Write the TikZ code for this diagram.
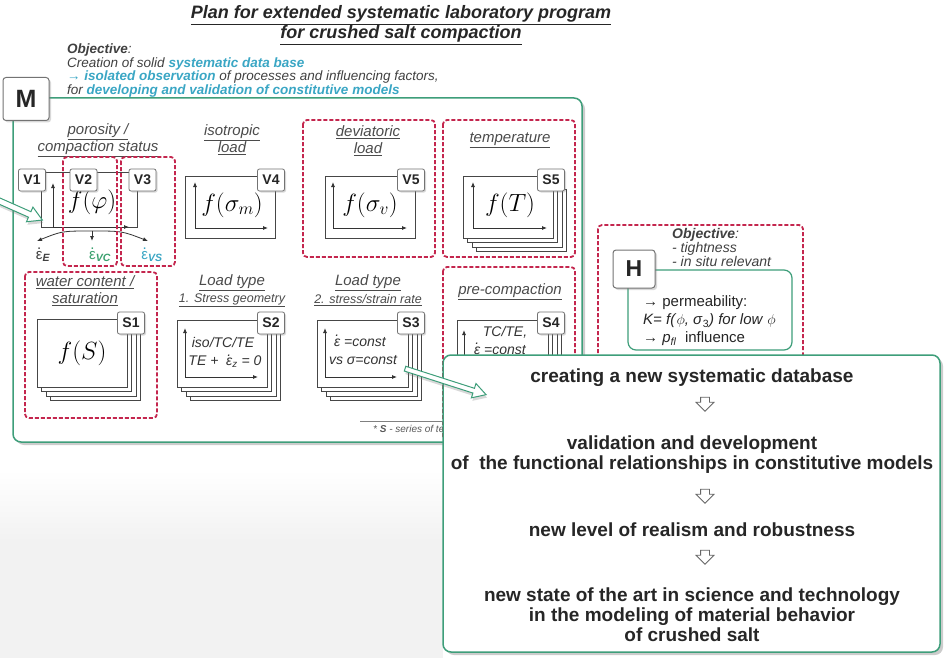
\documentclass[tikz,border=0pt]{standalone}
\usepackage{fontspec}
\setmainfont{Liberation Sans}
\usetikzlibrary{shapes.arrows,shadows,calc,arrows.meta}

\definecolor{boxgreen}{RGB}{62,158,122}
\definecolor{dashred}{RGB}{196,38,78}
\definecolor{hiblue}{RGB}{58,166,196}
\definecolor{higreen}{RGB}{58,160,110}
\definecolor{headgray}{RGB}{75,75,75}
\definecolor{framegray}{RGB}{70,70,70}

% epsilon with a rate dot
\newcommand\epsd{\smash{\ooalign{ε\cr\hidewidth\raisebox{0.68em}{\smash{.}}\hidewidth\cr}}}
% highlighted words of the objective
\newcommand\hl[1]{{\bfseries\color{hiblue}#1}}
% hollow block arrow between two named points
\newcommand\fatarrow[3][]{%
  \path let \p1=(#2), \p2=(#3),
    \n1={atan2(\y2-\y1,\x2-\x1)}, \n2={veclen(\x2-\x1,\y2-\y1)} in
    node[fatarr,#1,minimum height=\n2,rotate=\n1] at ($(\p1)!0.5!(\p2)$) {};}
% stack of plot sheets: name, centre, width, height
\newcommand\plotstack[4]{%
  \foreach \k in {3,2,1} {\node[plotframe,minimum width=#3,minimum height=#4] (#1-\k) at ($#2+(\k*4.5,\k*4.5)$) {};}
  \node[plotframe,minimum width=#3,minimum height=#4] (#1) at #2 {};}

\tikzset{
  titletext/.style={font=\fontsize{18}{20}\selectfont\bfseries\itshape, align=center, inner sep=0pt, text=black!85},
  objtext/.style={font=\fontsize{13.5}{13.4}\selectfont\itshape, align=left, inner sep=0pt, text=black!75},
  heading/.style={font=\fontsize{15}{17}\selectfont\itshape, text=headgray, align=center, inner sep=0pt},
  subheading/.style={font=\fontsize{12.5}{14}\selectfont\itshape, text=headgray, inner sep=0pt},
  groupbox/.style={draw=dashred, line width=1.8pt, dash pattern=on 4pt off 2pt, rounded corners=4pt},
  plotframe/.style={draw=framegray, line width=0.8pt, fill=white, inner sep=0pt},
  mainbox/.style={draw=boxgreen, line width=1.5pt, rounded corners=8pt, fill=white,
    drop shadow={shadow xshift=3pt, shadow yshift=-3pt, opacity=0.4}},
  bigtag/.style={draw=black!55, fill=white, rounded corners=3pt, line width=1pt, inner sep=0pt,
    font=\fontsize{25}{25}\selectfont\bfseries, text=black!85,
    drop shadow={shadow xshift=2pt, shadow yshift=-2pt, opacity=0.3}},
  tag/.style={draw=black!55, line width=0.8pt, fill=white, rounded corners=2pt,
    font=\fontsize{14}{14}\selectfont\bfseries, text=black!85, minimum width=27pt, minimum height=22pt, inner sep=0pt,
    drop shadow={shadow xshift=1.5pt, shadow yshift=-1.5pt, opacity=0.3}},
  axis/.style={-{Latex[length=5pt,width=4pt]}, line width=0.8pt, black!80},
  mathlbl/.style={font=\fontsize{23}{23}\selectfont, text=black, inner sep=0pt},
  plottext/.style={font=\fontsize{14}{14}\selectfont\itshape, text=black!80, inner sep=0pt},
  epslbl/.style={font=\fontsize{15}{15}\selectfont, inner sep=0pt},
  objh/.style={font=\fontsize{14}{14}\selectfont\itshape, align=left, inner sep=0pt, text=black!75},
  htext/.style={font=\fontsize{15}{18}\selectfont, align=left, inner sep=0pt, text=black!85},
  resulttext/.style={font=\fontsize{19}{20}\selectfont\bfseries, align=center, inner sep=0pt, text=black!85},
  downarr/.style={single arrow, draw=black!60, fill=white, line width=0.8pt, inner sep=4pt,
    single arrow head extend=4.5pt, minimum height=14pt, shape border rotate=270},
  fatarr/.style={single arrow, draw=boxgreen, fill=white, line width=1pt, inner sep=2.5pt,
    single arrow head extend=5pt, single arrow tip angle=60,
    drop shadow={shadow xshift=1pt, shadow yshift=-3pt, opacity=0.3}},
}

\begin{document}
\begin{tikzpicture}[x=1pt,y=-1pt]
\useasboundingbox (0,0) rectangle (947,658);
% faint backdrop, lower left
\shade[top color=white, bottom color=black!5] (0,470) rectangle (443,540);
\fill[black!5] (0,540) rectangle (443,658);

% heading and objective
\node[titletext] (title) at (401,25) {\underline{Plan for extended systematic laboratory program}\\\underline{for crushed salt compaction}};
\node[objtext, anchor=north west] (objective) at (67,44) {{\bfseries Objective}:\\Creation of solid \hl{systematic data base}\\\hl{→ isolated observation} of processes and influencing factors,\\for \hl{developing and validation of constitutive models}};

% laboratory program M
\node[mainbox, minimum width=569, minimum height=344] (mbox) at (297.5,270) {};
\node[bigtag, minimum width=46, minimum height=43] (mtag) at (26,99) {M};

% porosity / compaction status
\node[heading] (hpor) at (98,140) {\underline{porosity /}\\\underline{compaction status}};
\node[plotframe, minimum width=96, minimum height=55] (vframe) at (89,199.5) {};
\draw[axis] (53,227) -- (53,183);
\draw[axis] (53,227) -- (129,227);
\node[mathlbl] (fphi) at (92,202) {$f(\varphi)$};
\node[tag] (v1) at (32,180) {V1};
\node[tag] (v2) at (83.5,180) {V2};
\node[tag] (v3) at (142.5,180) {V3};
\coordinate (fan) at (92,231);
\node[epslbl, text=black!75] (epsE) at (43,258) {\epsd\textsubscript{\bfseries\itshape E}};
\node[epslbl, text=higreen] (epsVC) at (100,258) {\epsd\textsubscript{\bfseries\itshape VC}};
\node[epslbl, text=hiblue] (epsVS) at (152,258) {\epsd\textsubscript{\bfseries\itshape VS}};
\draw[axis] (fan) .. controls (62,231) .. (37,241);
\draw[axis] (fan) -- (92,241);
\draw[axis] (fan) .. controls (122,231) .. (148,241);
\draw[groupbox] (63,157) rectangle (117,266);
\draw[groupbox] (121,157) rectangle (175,266);

% isotropic load
\node[heading] (hiso) at (232,140) {\underline{isotropic}\\\underline{load}};
\node[plotframe, minimum width=90, minimum height=62] (f4) at (230,207) {};
\draw[axis] (195,228) -- (195,182);
\draw[axis] (195,228) -- (268,228);
\node[mathlbl] (fsm) at (232,205) {$f(\sigma_m)$};
\node[tag] (v4) at (271,180) {V4};

% deviatoric load
\node[heading] (hdev) at (368,141) {\underline{deviatoric}\\\underline{load}};
\node[plotframe, minimum width=90, minimum height=62] (f5) at (370,207) {};
\draw[axis] (333,228) -- (333,182);
\draw[axis] (333,228) -- (407,228);
\node[mathlbl] (fsv) at (370,205) {$f(\sigma_v)$};
\node[tag] (v5) at (411,180) {V5};
\draw[groupbox] (303,120) rectangle (435,257);

% temperature
\node[heading] (htemp) at (510,140) {\underline{temperature}};
\plotstack{s5f}{(508,207)}{90}{62}
\draw[axis] (473,228) -- (473,182);
\draw[axis] (473,228) -- (547,228);
\node[mathlbl] (fT) at (510,205) {$f(T)$};
\node[tag] (s5) at (551,180) {S5};
\draw[groupbox] (443,120) rectangle (575,257);

% water content / saturation
\node[heading] (hwat) at (85,291) {\underline{water content /}\\\underline{saturation}};
\plotstack{s1f}{(82,353)}{90}{68}
\node[mathlbl] (fS) at (82,353) {$f(S)$};
\node[tag] (s1) at (131,323) {S1};
\draw[groupbox] (25,272) rectangle (157,418);

% load type: stress geometry
\node[heading] (hl1) at (232,283) {\underline{Load type}};
\node[subheading] (hl1b) at (232,300) {\underline{1. Stress geometry}};
\plotstack{s2f}{(222,353.5)}{90}{67}
\draw[axis] (185,377) -- (185,328);
\draw[axis] (185,377) -- (258,377);
\node[plottext] (iso) at (223,342) {iso/TC/TE};
\node[plottext] (tez) at (225,362) {TE +\ \ \epsd\textsubscript{z} = 0};
\node[tag] (s2) at (271,323) {S2};

% load type: stress / strain rate
\node[heading] (hl2) at (368,283) {\underline{Load type}};
\node[subheading] (hl2b) at (368,300) {\underline{2. stress/strain rate}};
\plotstack{s3f}{(362.5,353.5)}{91}{67}
\draw[axis] (325,377) -- (325,328);
\draw[axis] (325,377) -- (397,377);
\node[plottext] (rate1) at (360,342) {\epsd\ =const};
\node[plottext] (rate2) at (363,360) {vs σ=const};
\node[tag] (s3) at (411,323) {S3};

% pre-compaction
\node[heading] (hpre) at (510,292) {\underline{pre-compaction}};
\plotstack{s4f}{(502.5,353.5)}{91}{67}
\draw[axis] (464,377) -- (464,330);
\node[plottext] (tcte) at (505,332) {TC/TE,};
\node[plottext] (prerate) at (500,350) {\epsd\ =const};
\node[tag] (s4) at (551,323) {S4};
\draw[groupbox] (443,267) rectangle (575,440);

% footnote
\draw[black!50, line width=0.6pt] (360,421) -- (480,421);
\node[font=\fontsize{10}{10}\selectfont\itshape, text=black!65, anchor=west, inner sep=0pt] (foot) at (373,429) {* \textbf{S} - series of tests};

% hydraulic program H
\draw[groupbox] (598,225) rectangle (803,420);
\node[objh, anchor=north west] (hobj) at (672,228) {{\bfseries Objective}:\\- tightness\\- in situ relevant};
\node[draw=boxgreen, line width=1.2pt, rounded corners=8pt, fill=white, minimum width=164, minimum height=80] (hbox) at (710,310) {};
\node[htext, anchor=west] (htxt) at (643,321) {→ permeability:\\\textit{K= f(}$\phi$\textit{, σ}\textsubscript{3}\textit{) for low} $\phi$\\→ \textit{p}\textsubscript{\textit{fl}}\ \ influence};
\node[bigtag, minimum width=42, minimum height=38, font=\fontsize{23}{23}\selectfont\bfseries] (htag) at (634,269) {H};

% outcome chain
\node[mainbox, minimum width=497, minimum height=297] (big) at (691.5,503.5) {};
\node[resulttext] (c1) at (692,378) {creating a new systematic database};
\node[downarr] (d1) at (705,402) {};
\node[resulttext] (c2) at (692,455) {validation and development\\of\ \ the functional relationships in constitutive models};
\node[downarr] (d2) at (705,494) {};
\node[resulttext] (c3) at (692,530) {new level of realism and robustness};
\node[downarr] (d3) at (705,555) {};
\node[resulttext] (c4) at (692,615) {new state of the art in science and technology\\in the modeling of material behavior\\of crushed salt};

% block arrows
\coordinate (lin) at (-30,188);
\coordinate (ltip) at (40,219);
\fatarrow{lin}{ltip}
\coordinate (s3out) at (403,368);
\coordinate (bigin) at (484,394);
\fatarrow[inner sep=2pt, single arrow head extend=5pt]{s3out}{bigin}
\end{tikzpicture}
\end{document}
